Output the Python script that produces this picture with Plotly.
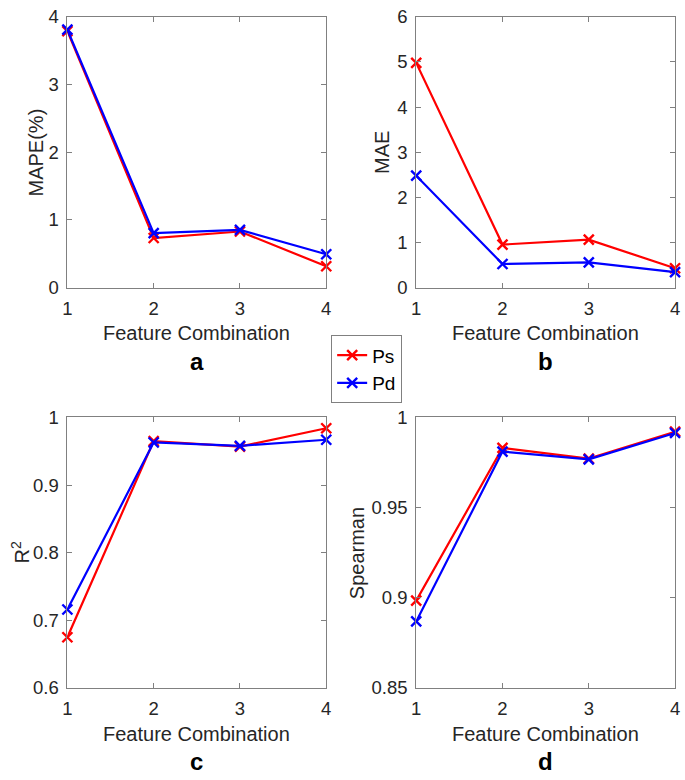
import plotly.graph_objects as go

x_vals = [1, 2, 3, 4]
x_ticks = ["1", "2", "3", "4"]

mape_ps = [3.79, 0.733, 0.829, 0.316]
mape_pd = [3.81, 0.805, 0.853, 0.493]

mae_ps = [4.98, 0.955, 1.063, 0.43]
mae_pd = [2.48, 0.524, 0.56, 0.345]

r2_ps = [0.675, 0.965, 0.957, 0.984]
r2_pd = [0.716, 0.963, 0.958, 0.967]

sp_ps = [0.8984, 0.9831, 0.9772, 0.9921]
sp_pd = [0.8869, 0.9811, 0.9768, 0.9914]

panels = [
    ("a", mape_ps, mape_pd, "MAPE(%)", [0, 4], [0, 1, 2, 3, 4], ["0", "1", "2", "3", "4"]),
    ("b", mae_ps, mae_pd, "MAE", [0, 6], [0, 1, 2, 3, 4, 5, 6], ["0", "1", "2", "3", "4", "5", "6"]),
    ("c", r2_ps, r2_pd, "R<sup>2</sup>", [0.6, 1.0], [0.6, 0.7, 0.8, 0.9, 1.0], ["0.6", "0.7", "0.8", "0.9", "1"]),
    ("d", sp_ps, sp_pd, "Spearman", [0.85, 1.0], [0.85, 0.9, 0.95, 1.0], ["0.85", "0.9", "0.95", "1"]),
]

W, H = 685, 780
FONT = "Liberation Sans, Arial, sans-serif"
TXT = "#262626"
AXC = "#808080"
TICK_SIZE = 18.5
TITLE_SIZE = 20

# pixel boxes (left, right, top, bottom)
boxes = [
    (63.3, 326.0, 6.0, 284.3),
    (417.3, 680.0, 6.0, 284.3),
    (63.3, 326.0, 417.7, 695.7),
    (417.3, 680.0, 417.7, 695.7),
]
ytitle_x = [31.7, 383.3, 16.0, 356.7]

fig = go.Figure()
layout = dict(
    width=W, height=H, margin=dict(l=0, r=0, t=0, b=0),
    paper_bgcolor="white", plot_bgcolor="white",
    font=dict(family=FONT, color=TXT, size=TICK_SIZE),
)
annotations = []

for i, (letter, ps, pd_, ytitle, yr, ytv, ytt) in enumerate(panels):
    n = "" if i == 0 else str(i + 1)
    l, r, t, b = boxes[i]
    xd = [l / W, r / W]
    yd = [1 - b / H, 1 - t / H]
    common = dict(showline=True, linecolor=AXC, linewidth=1, mirror="allticks",
                  ticks="inside", ticklen=5, tickcolor=AXC, showgrid=False,
                  zeroline=False, ticklabeloverflow="allow",
                  tickfont=dict(family=FONT, size=TICK_SIZE, color=TXT))
    layout["xaxis" + n] = dict(domain=xd, range=[1, 4], tickvals=x_vals, ticktext=x_ticks,
                               anchor="y" + n, ticklabelstandoff=4, **common)
    layout["yaxis" + n] = dict(domain=yd, range=yr, tickvals=ytv, ticktext=ytt,
                               anchor="x" + n, ticklabelstandoff=4, **common)
    for name, vals, col in (("Ps", ps, "#ff0000"), ("Pd", pd_, "#0000ff")):
        fig.add_trace(go.Scatter(
            x=x_vals, y=vals, mode="lines+markers", name=name,
            xaxis="x" + n, yaxis="y" + n, showlegend=(i == 0),
            line=dict(color=col, width=2.2),
            marker=dict(symbol="x-thin", size=10, line=dict(width=2.4, color=col), color=col),
            cliponaxis=False,
        ))
    cx = (l + r) / 2
    annotations.append(dict(text="Feature Combination", x=cx / W, y=1 - (b + 47) / H,
                            xref="paper", yref="paper", showarrow=False,
                            font=dict(size=TITLE_SIZE, color=TXT, family=FONT),
                            xanchor="center", yanchor="middle"))
    annotations.append(dict(text="<b>" + letter + "</b>", x=cx / W, y=1 - (b + 76) / H,
                            xref="paper", yref="paper", showarrow=False,
                            font=dict(size=24, color="black", family=FONT),
                            xanchor="center", yanchor="middle"))
    annotations.append(dict(text=ytitle, x=ytitle_x[i] / W, y=1 - ((t + b) / 2) / H,
                            xref="paper", yref="paper", showarrow=False, textangle=-90,
                            font=dict(size=TITLE_SIZE, color=TXT, family=FONT),
                            xanchor="center", yanchor="middle"))

layout["annotations"] = annotations
layout["legend"] = dict(x=331 / W, y=1 - 333.3 / H, xanchor="left", yanchor="top",
                        bgcolor="white", bordercolor=AXC, borderwidth=1,
                        font=dict(size=19, color="black", family=FONT),
                        tracegroupgap=0, itemwidth=30)
fig.update_layout(**layout)
fig.write_html("out.html", config={"displayModeBar": False},
               post_script="document.body.style.margin='0';document.body.style.overflow='hidden';")
